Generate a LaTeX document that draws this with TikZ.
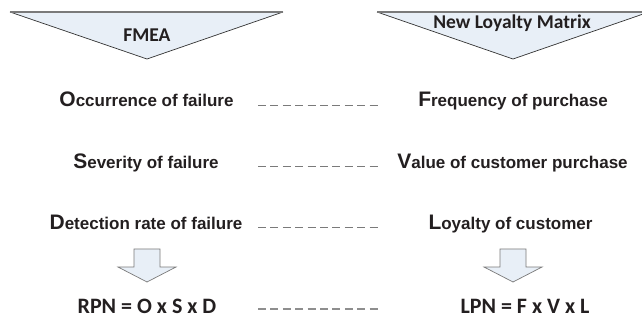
\documentclass[tikz,border=0pt]{standalone}
\usepackage{fontspec}
\setmainfont{Liberation Sans}
\newfontfamily\calfont{Carlito}
\definecolor{pale}{HTML}{E8EFF7}
\definecolor{ink}{HTML}{231F20}
\definecolor{edge}{HTML}{333333}
\definecolor{dashc}{HTML}{7A7A7A}
\begin{document}
\begin{tikzpicture}[x=1pt,y=-1pt,
  title/.style={font=\calfont\bfseries\fontsize{19.5}{22}\selectfont, text=ink, anchor=base, inner sep=0pt},
  formula/.style={font=\calfont\bfseries\fontsize{22}{26}\selectfont, text=ink, anchor=base, inner sep=0pt},
  rowlabel/.style={font=\bfseries\fontsize{17}{20}\selectfont, text=ink, anchor=base, inner sep=0pt},
  link/.style={dashc, line width=1.8pt, dash pattern=on 8pt off 4.4pt},
  tri/.style={fill=pale, draw=edge, line width=0.7pt},
  triTop/.style={draw=dashc, line width=1.6pt},
  blockarrow/.style={fill=pale, draw=dashc, line width=0.7pt, line join=miter}
]
\clip (0,0) rectangle (642,320);
\fill[white] (0,0) rectangle (642,320);

% header triangles
\fill[pale] (10,12) -- (283,12) -- (147,59) -- cycle;
\draw[tri,fill=none] (10,12) -- (147,59) -- (283,12);
\draw[triTop] (10,12) -- (283,12);

\fill[pale] (377,12) -- (649,12) -- (513,59) -- cycle;
\draw[tri,fill=none] (377,12) -- (513,59) -- (649,12);
\draw[triTop] (377,12) -- (649,12);

\node[title] (fmea) at (147,42) {FMEA};
\node[title] (nlm) at (512,29) {New Loyalty Matrix};

% rows
\node[rowlabel] (occ) at (146.5,107) {{\fontsize{21}{24}\selectfont O}ccurrence of failure};
\node[rowlabel] (sev) at (146,169) {{\fontsize{21}{24}\selectfont S}everity of failure};
\node[rowlabel] (det) at (146,230) {{\fontsize{21}{24}\selectfont D}etection rate of failure};

\node[rowlabel] (freq) at (513,107) {{\fontsize{21}{24}\selectfont F}requency of purchase};
\node[rowlabel] (val) at (512.5,169) {{\fontsize{21}{24}\selectfont V}alue of customer purchase};
\node[rowlabel] (loy) at (510.5,230) {{\fontsize{21}{24}\selectfont L}oyalty of customer};

% dashed links
\coordinate (a1) at (258,105.5); \coordinate (b1) at (378,105.5);
\coordinate (a2) at (258,166.5); \coordinate (b2) at (378,166.5);
\coordinate (a3) at (258,227.5); \coordinate (b3) at (378,227.5);
\coordinate (a4) at (258,309); \coordinate (b4) at (378,309);
\draw[link] (a1) -- (b1);
\draw[link] (a2) -- (b2);
\draw[link] (a3) -- (b3);
\draw[link,dashc!85] (a4) -- (b4);

% block arrows
\draw[blockarrow] (134,249) -- (160,249) -- (160,267) -- (176,267) -- (147,282) -- (118,267) -- (134,267) -- cycle;
\draw[blockarrow] (500,249) -- (526,249) -- (526,267) -- (542,267) -- (513,282) -- (484,267) -- (500,267) -- cycle;

% formulas
\node[formula] (rpn) at (147,313) {RPN = O x S x D};
\node[formula] (lpn) at (525,313) {LPN = F x V x L};
\end{tikzpicture}
\end{document}
